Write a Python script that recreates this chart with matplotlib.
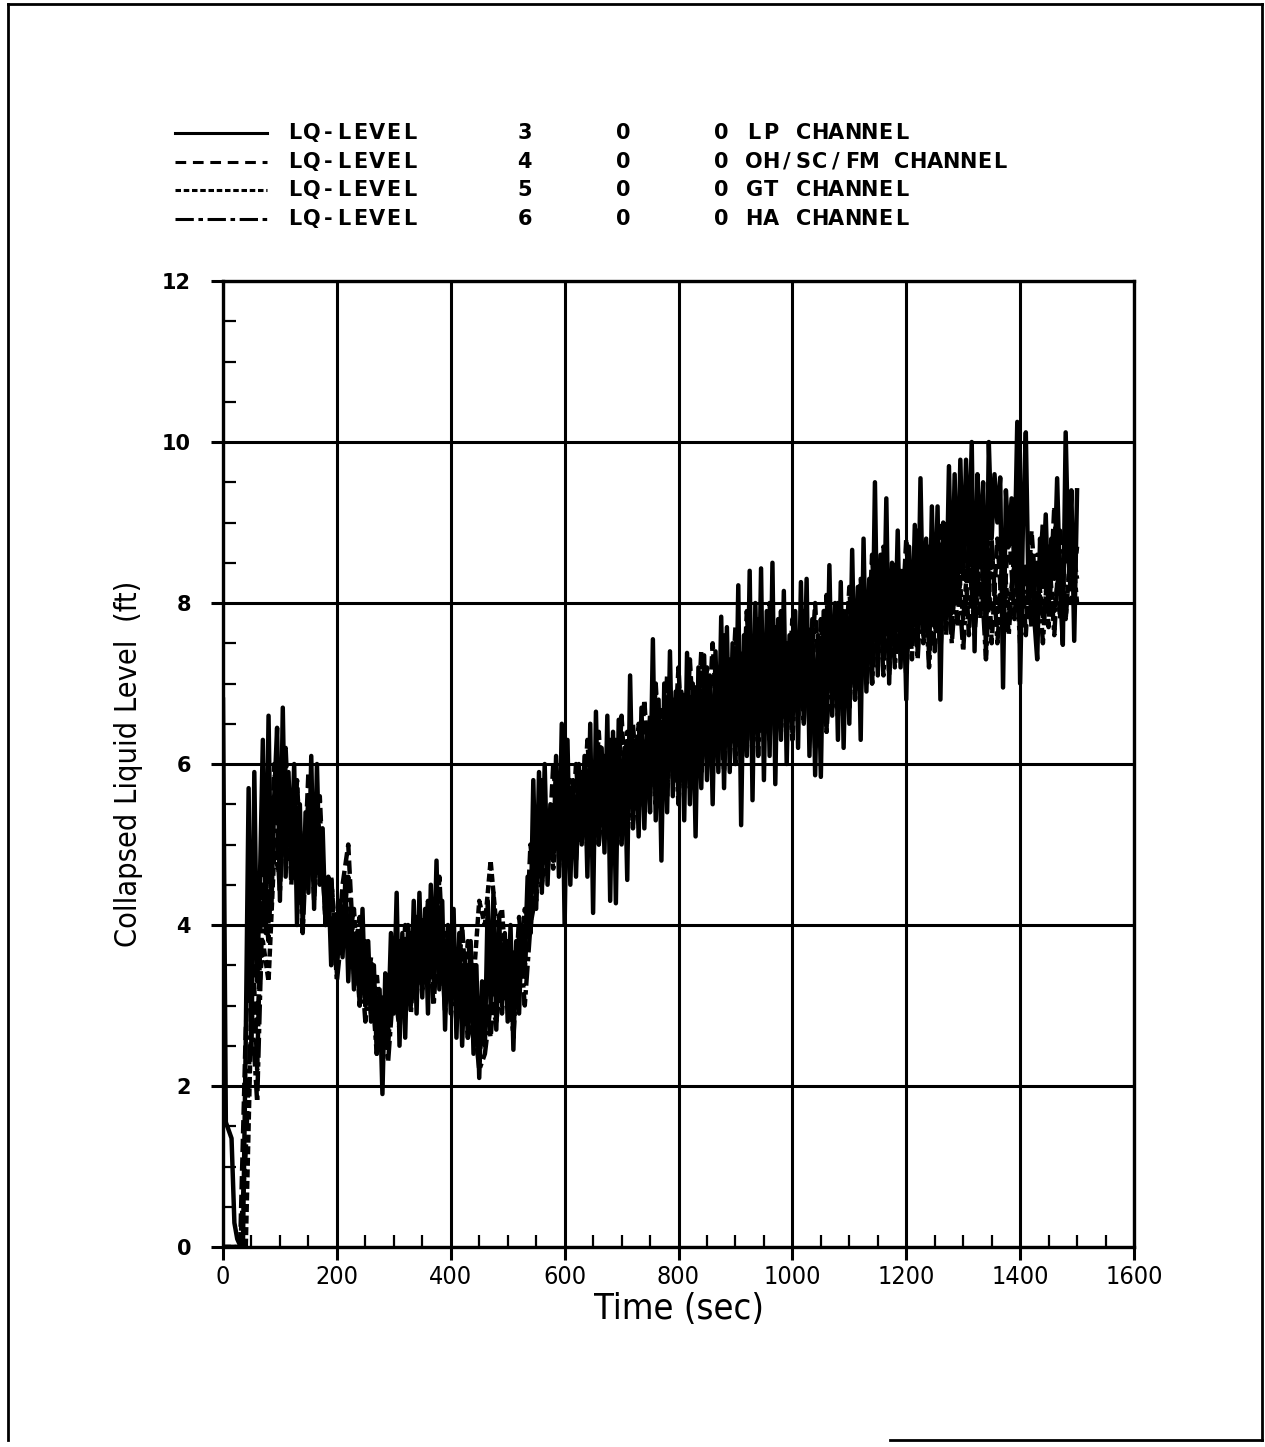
import matplotlib
matplotlib.use("Agg")
import matplotlib.pyplot as plt
from matplotlib.lines import Line2D
import numpy as np

# LP channel sampled every 5 s, the other channels every 10 s
t_lp = np.arange(0, 1501, 5)
t_ch = np.arange(0, 1501, 10)

lp = [
    6.8, 1.55, 1.45, 1.35, 0.3, 0.1, 0.02, 0.0, 2.6, 5.7,
    2.4, 5.9, 3.3, 4.6, 6.3, 3.9, 6.6, 4.2, 5.6, 6.45,
    4.3, 6.7, 4.6, 5.9, 4.8, 6.0, 4.0, 5.5, 3.95, 5.4,
    4.4, 6.1, 4.2, 6.0, 4.5, 5.2, 4.0, 4.6, 3.5, 4.1,
    3.4, 4.3, 3.6, 4.6, 3.3, 4.2, 3.2, 3.9, 3.0, 4.2,
    3.0, 3.8, 2.8, 3.5, 2.4, 3.2, 1.9, 3.4, 2.7, 3.9,
    3.0, 4.4, 2.5, 3.9, 2.6, 4.0, 3.0, 4.3, 2.9, 4.4,
    3.1, 4.2, 2.9, 4.5, 3.3, 4.8, 3.2, 4.3, 2.7, 4.0,
    2.9, 4.2, 2.6, 3.9, 2.5, 3.6, 2.6, 3.8, 2.4, 3.5,
    2.1, 3.3, 2.5, 4.3, 3.0, 4.4, 2.7, 4.1, 3.0, 3.9,
    2.8, 4.0, 2.45, 3.8, 2.9, 4.0, 3.5, 4.6, 3.9, 5.8,
    4.2, 5.9, 4.4, 6.0, 4.5, 5.5, 4.8, 6.1, 4.6, 6.5,
    4.0, 6.3, 4.5, 5.8, 4.6, 6.0, 5.0, 6.1, 4.6, 6.5,
    4.15, 6.65, 5.0, 6.2, 4.9, 6.6, 4.3, 6.4, 4.27, 6.55,
    5.0, 6.2, 4.56, 7.1, 5.3, 6.3, 5.1, 6.7, 5.2, 6.5,
    5.4, 7.55, 5.3, 6.8, 4.8, 7.0, 5.4, 7.4, 5.6, 6.9,
    5.6, 6.9, 5.3, 7.38, 5.5, 7.0, 5.1, 7.2, 5.7, 7.35,
    5.8, 7.1, 5.5, 7.4, 5.9, 7.83, 5.7, 7.7, 5.9, 7.5,
    6.0, 8.22, 5.24, 7.6, 6.1, 8.4, 5.55, 8.0, 6.2, 8.43,
    5.8, 7.9, 6.1, 8.5, 5.75, 7.8, 6.3, 8.15, 6.0, 7.6,
    6.4, 7.9, 6.2, 8.26, 6.5, 8.3, 6.1, 7.8, 5.86, 7.6,
    5.84, 7.9, 6.4, 8.47, 6.6, 8.0, 6.3, 8.26, 6.2, 7.9,
    6.5, 8.66, 6.8, 8.2, 6.3, 8.8, 6.9, 8.3, 7.0, 9.5,
    7.1, 8.6, 7.3, 9.3, 7.0, 8.5, 7.4, 8.9, 7.2, 8.4,
    6.8, 8.7, 7.5, 8.97, 7.4, 9.55, 7.6, 8.8, 7.3, 9.2,
    7.7, 9.2, 6.8, 9.0, 7.8, 9.7, 7.9, 9.6, 8.0, 9.78,
    8.3, 9.78, 8.5, 10.0, 7.4, 9.6, 8.6, 9.5, 7.35, 10.0,
    8.8, 9.6, 9.0, 9.56, 6.95, 9.4, 8.7, 9.3, 8.4, 10.25,
    7.0, 9.0, 10.12, 8.0, 8.6, 7.8, 7.3, 8.8, 8.2, 9.1,
    7.9, 8.8, 8.3, 9.55, 8.2, 7.48, 10.12, 8.5, 9.4, 7.53,
    9.4,
]

oh_sc_fm = [
    0.0, 0.0, 0.0, 0.0, 2.7, 4.2, 2.2, 5.2, 4.0, 6.0,
    4.6, 6.0, 4.5, 5.8, 4.2, 5.9, 4.3, 5.6, 4.0, 4.6,
    3.5, 4.5, 5.0, 3.6, 4.1, 3.0, 3.6, 2.6, 3.1, 2.5,
    3.6, 2.9, 4.0, 3.1, 3.9, 3.3, 4.3, 3.2, 4.6, 3.1,
    3.8, 3.0, 4.0, 2.8, 3.4, 2.3, 3.2, 2.6, 3.5, 2.9,
    3.8, 2.8, 4.1, 3.4, 5.0, 4.3, 5.8, 4.6, 6.0, 5.0,
    6.2, 4.8, 6.0, 5.0, 6.3, 5.1, 6.4, 5.2, 6.3, 5.3,
    6.6, 5.3, 6.5, 5.5, 6.8, 5.6, 7.0, 5.7, 7.1, 5.9,
    7.2, 5.8, 7.3, 6.0, 7.4, 6.1, 7.5, 6.2, 7.6, 6.3,
    7.7, 6.2, 7.9, 6.4, 7.8, 6.5, 8.0, 6.4, 7.9, 6.6,
    7.8, 6.6, 7.9, 6.8, 8.0, 6.5, 8.1, 6.7, 8.0, 6.9,
    8.2, 6.8, 8.3, 7.0, 8.6, 7.2, 8.7, 7.1, 8.5, 7.4,
    8.8, 7.3, 8.9, 7.5, 8.7, 7.4, 9.0, 7.6, 8.8, 7.7,
    9.0, 7.6, 8.9, 7.8, 9.1, 7.5, 8.8, 7.7, 9.0, 7.8,
    8.8, 7.6, 8.9, 7.9, 9.0, 7.7, 9.2, 7.8, 9.1, 8.0,
    8.7,
]

gt = [
    0.0, 0.0, 0.0, 0.0, 0.0, 3.0, 2.8, 3.8, 3.3, 4.9,
    4.6, 5.4, 4.8, 5.7, 4.7, 5.5, 4.6, 5.4, 4.2, 4.6,
    3.6, 4.0, 3.8, 4.2, 3.0, 3.8, 2.9, 3.4, 2.5, 3.2,
    2.9, 3.8, 3.0, 3.9, 3.1, 4.1, 3.3, 4.2, 3.3, 3.9,
    3.1, 3.6, 2.9, 3.8, 3.3, 4.3, 4.0, 4.8, 4.0, 4.2,
    3.1, 3.7, 3.2, 4.2, 3.9, 4.9, 4.5, 5.4, 4.7, 5.6,
    4.8, 5.8, 4.9, 5.9, 5.0, 6.0, 5.1, 6.1, 5.2, 6.3,
    5.4, 6.4, 5.5, 6.5, 5.4, 6.6, 5.7, 6.7, 5.7, 6.6,
    5.9, 6.8, 5.8, 6.9, 6.0, 7.0, 6.1, 7.1, 6.2, 7.2,
    6.3, 7.3, 6.4, 7.4, 6.5, 7.5, 6.6, 7.6, 6.6, 7.5,
    6.8, 7.6, 6.9, 7.5, 6.8, 7.4, 6.9, 7.5, 7.0, 7.7,
    7.0, 8.0, 7.1, 8.1, 7.2, 8.2, 7.3, 8.3, 7.4, 8.4,
    7.5, 8.5, 7.6, 8.6, 7.6, 8.5, 7.8, 8.6, 7.7, 8.6,
    7.8, 8.7, 7.7, 8.8, 7.8, 8.7, 7.7, 8.6, 7.9, 8.5,
    7.8, 8.4, 7.9, 8.5, 7.8, 8.4, 7.9, 8.5, 7.8, 8.8,
    8.3,
]

ha = [
    0.0, 0.0, 0.0, 0.0, 1.2, 3.0, 1.8, 4.4, 3.8, 5.6,
    4.4, 6.2, 4.6, 5.4, 3.9, 5.6, 4.4, 5.2, 4.1, 4.5,
    3.3, 4.0, 4.6, 3.4, 3.8, 2.8, 3.4, 2.4, 2.9, 2.3,
    3.3, 2.7, 3.8, 2.9, 4.1, 3.2, 3.9, 3.0, 4.2, 2.9,
    3.6, 2.8, 3.5, 2.6, 2.9, 2.2, 2.4, 3.0, 2.8, 3.4,
    3.5, 2.6, 3.9, 3.0, 4.0, 4.4, 4.5, 5.2, 4.8, 5.6,
    4.6, 5.7, 4.8, 5.9, 4.9, 6.0, 5.0, 5.8, 5.1, 6.1,
    5.0, 6.2, 5.2, 6.3, 5.4, 6.5, 5.5, 6.6, 5.6, 6.8,
    5.5, 6.9, 5.7, 7.0, 5.9, 7.2, 6.0, 7.1, 5.9, 7.3,
    6.0, 7.4, 6.2, 7.5, 6.1, 7.6, 6.3, 7.7, 6.4, 7.5,
    6.3, 7.6, 6.5, 7.7, 6.2, 7.8, 6.4, 7.6, 6.6, 7.9,
    6.7, 8.0, 6.9, 8.1, 7.0, 8.3, 7.1, 8.4, 7.2, 8.2,
    7.1, 8.5, 7.3, 8.6, 7.2, 8.4, 7.4, 8.7, 7.5, 8.5,
    7.4, 8.7, 7.6, 8.6, 7.3, 8.8, 7.5, 8.5, 7.6, 8.7,
    7.5, 8.5, 7.7, 8.6, 7.5, 8.7, 7.6, 8.9, 7.8, 8.8,
    8.0,
]

legend_rows = [
    ("LQ-LEVEL      3     0     0 LP CHANNEL", "-"),
    ("LQ-LEVEL      4     0     0 OH/SC/FM CHANNEL", (0, (3.5, 2.2))),
    ("LQ-LEVEL      5     0     0 GT CHANNEL", (0, (1.8, 0.9))),
    ("LQ-LEVEL      6     0     0 HA CHANNEL", (0, (6, 1.5, 1.5, 1.5))),
]

W, H = 1265, 1447
fig = plt.figure(figsize=(W / 100, H / 100), dpi=100)
ax = fig.add_axes([223 / W, 1 - 1247 / H, (1134 - 223) / W, (1247 - 281) / H])

narrow = dict(family='DejaVu Sans', stretch='condensed')

ax.plot(t_ch, gt, color='black', lw=3.2, ls=(0, (1.8, 0.8)))
ax.plot(t_ch, oh_sc_fm, color='black', lw=3.2, ls=(0, (3.0, 1.2)))
ax.plot(t_ch, ha, color='black', lw=3.2, ls=(0, (4.5, 1.0, 1.0, 1.0)))
ax.plot(t_lp, lp, color='black', lw=3.2, ls='-')

ax.set_xlim(0, 1600)
ax.set_ylim(0, 12)
ax.set_xticks(np.arange(0, 1601, 200))
ax.set_yticks(np.arange(0, 13, 2))
ax.set_xticks(np.arange(0, 1601, 50), minor=True)
ax.set_yticks(np.arange(0, 12.1, 0.5), minor=True)
ax.grid(True, which='major', color='black', lw=2.2)
ax.set_axisbelow(True)
for s in ax.spines.values():
    s.set_linewidth(2.4)
    s.set_zorder(5)
ax.tick_params(which='major', direction='out', length=9, width=2.2, pad=4)
ax.tick_params(which='minor', direction='in', length=9, width=1.6)
ax.tick_params(axis='x', which='major', labelsize=18)
ax.tick_params(axis='y', which='major', labelsize=15, pad=14)
for lab in ax.get_xticklabels():
    lab.set_fontstretch('condensed')
for lab in ax.get_yticklabels():
    lab.set_fontweight('bold')

ax.set_xlabel('Time (sec)', fontsize=26, labelpad=2, **narrow)
ax.set_ylabel('Collapsed Liquid Level  (ft)', fontsize=22, labelpad=14, **narrow)

# legend block at the top, drawn in plotter style with a fixed pitch
pitch = 16.4
for i, (txt, ls) in enumerate(legend_rows):
    y = 1 - (133 + i * 28.7) / H
    fig.add_artist(Line2D([175 / W, 267 / W], [y, y], color='black', lw=2.2, ls=ls))
    for k, ch in enumerate(txt):
        if ch == ' ':
            continue
        fig.text((289 + k * pitch + 6) / W, y, ch, ha='center', va='center',
                 fontsize=15, fontweight='semibold', family='DejaVu Sans')

# page frame
fig.add_artist(Line2D([8 / W, 8 / W], [1 - 1440 / H, 1 - 4 / H], color='black', lw=2))
fig.add_artist(Line2D([8 / W, 1262 / W], [1 - 4 / H, 1 - 4 / H], color='black', lw=2))
fig.add_artist(Line2D([1262 / W, 1262 / W], [1 - 4 / H, 1 - 1440 / H], color='black', lw=2))
fig.add_artist(Line2D([890 / W, 1262 / W], [1 - 1440 / H, 1 - 1440 / H], color='black', lw=2))

fig.savefig('out.png', dpi=100)
